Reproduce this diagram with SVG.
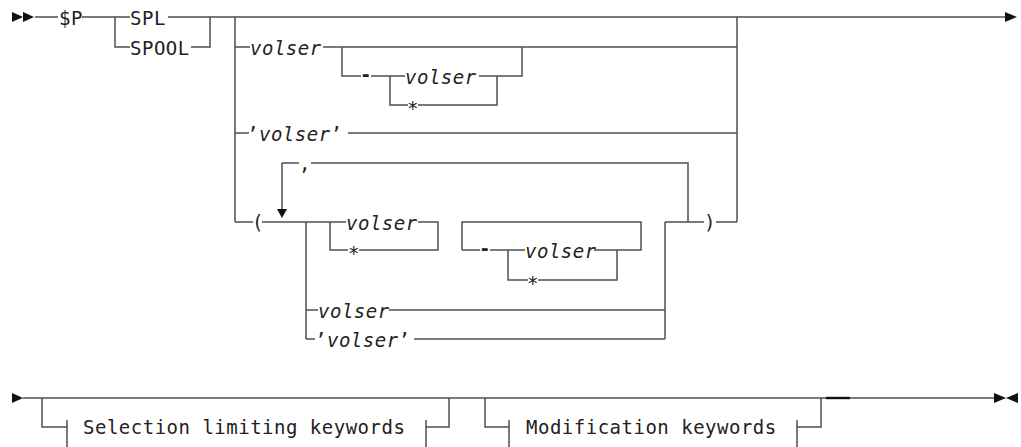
<svg xmlns="http://www.w3.org/2000/svg" width="1021" height="447" viewBox="0 0 1021 447">
<style>
.t{font-family:"DejaVu Sans Mono","Liberation Mono",monospace;font-size:19px;letter-spacing:0.5px;fill:#222}
.i{font-style:italic}
.b{font-weight:bold}
.c{stroke:#4f4f4f;stroke-width:1.5;fill:none}
.a{fill:#111;stroke:none}
.k{stroke:#111;stroke-width:2.4}
</style>
<rect width="1021" height="447" fill="#fff"/>
<g id="connectors">
<path class="c" d="M35 17H58M82 17H130M168 17H1005M115 17V47H130M191 47H210V17M235 17V222"/>
<path class="c" d="M235 47H250M323 47H737M342 47V76H361M371 76H405M479 76H522V47M390 76V105H408M418 105H497V76"/>
<path class="c" d="M235 133H249M348 133H737M737 17V222"/>
<path class="c" d="M235 222H253M262 222H346M306 222V339M330 222V250H348M359 250H438V222H418M282 163V210M282 163H299M311 163H688V222"/>
<path class="c" d="M462 250V222H641V250H594M462 250H480M490 250H525M508 250V280H528M538 280H617V250"/>
<path class="c" d="M665 222V339M665 222H704M716 222H737M306 310H318M389 310H665M306 339H315M414 339H665"/>
<path class="c" d="M23 398H994M42 398V427H67M67 420V447M426 420V447M426 427H449V398M485 398V427H509M509 420V447M797 420V447M797 427H821V398"/>
<path class="k" d="M826 398H850"/>
<polygon class="a" points="12,12 12,22 23,17"/>
<polygon class="a" points="23,12 23,22 34,17"/>
<polygon class="a" points="1005,12 1005,22 1017,17"/>
<polygon class="a" points="277,209 287,209 282,218"/>
<polygon class="a" points="12,393 12,403 23,398"/>
<polygon class="a" points="994,393 994,403 1006,398"/>
<polygon class="a" points="1018,393 1018,403 1006,398"/>
</g>
<g id="n-sp"><text class="t" x="59" y="25">$P</text></g>
<g id="n-spl"><text class="t" x="130" y="25">SPL</text></g>
<g id="n-spool"><text class="t" x="130" y="55">SPOOL</text></g>
<g id="n-volser1"><text class="t i" x="250" y="55">volser</text></g>
<g id="n-dash1"><text class="t b" x="360" y="81">-</text></g>
<g id="n-volser2"><text class="t i" x="405" y="84">volser</text></g>
<g id="n-star1"><text class="t" x="407" y="115">*</text></g>
<g id="n-qvolser1"><text class="t" x="247" y="141">’<tspan class="i">volser</tspan>’</text></g>
<g id="n-lparen"><text class="t" x="252" y="229">(</text></g>
<g id="n-comma"><text class="t" x="299" y="170">,</text></g>
<g id="n-volser3"><text class="t i" x="346" y="230">volser</text></g>
<g id="n-star2"><text class="t" x="348" y="260">*</text></g>
<g id="n-dash2"><text class="t b" x="479" y="255">-</text></g>
<g id="n-volser4"><text class="t i" x="525" y="258">volser</text></g>
<g id="n-star3"><text class="t" x="527" y="290">*</text></g>
<g id="n-rparen"><text class="t" x="704" y="229">)</text></g>
<g id="n-volser5"><text class="t i" x="318" y="318">volser</text></g>
<g id="n-qvolser2"><text class="t" x="315" y="347">’<tspan class="i">volser</tspan>’</text></g>
<g id="n-selection"><text class="t" x="83" y="434">Selection limiting keywords</text></g>
<g id="n-modification"><text class="t" x="526" y="434">Modification keywords</text></g>
</svg>
